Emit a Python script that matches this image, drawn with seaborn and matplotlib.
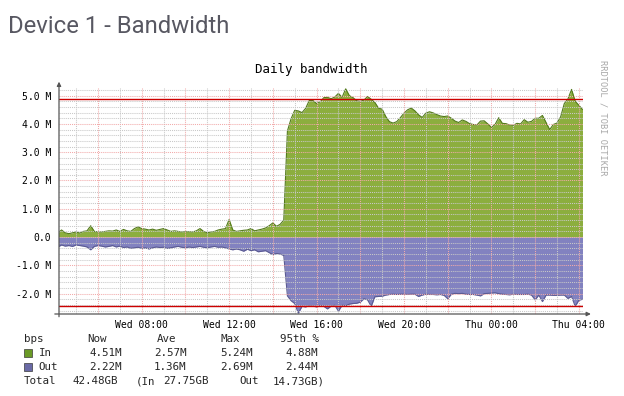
import numpy as np
import pandas as pd
import matplotlib
matplotlib.use("Agg")
import matplotlib.pyplot as plt
import seaborn as sns
from matplotlib.patches import Rectangle
from matplotlib.ticker import FixedLocator, MultipleLocator, FuncFormatter, NullFormatter

# ---------------- data ----------------
start_min = 250          # minutes after Wed 00:00 (Wed 04:10)
step_min = 10            # sample spacing, minutes

in_mbps = [
    0.15, 0.25, 0.15, 0.12, 0.15, 0.18, 0.14, 0.20, 0.22, 0.40,
    0.20, 0.18, 0.18, 0.20, 0.22, 0.21, 0.25, 0.20, 0.27, 0.22,
    0.20, 0.30, 0.36, 0.30, 0.28, 0.25, 0.28, 0.24, 0.27, 0.30,
    0.25, 0.20, 0.22, 0.20, 0.18, 0.20, 0.19, 0.18, 0.22, 0.30,
    0.20, 0.15, 0.18, 0.20, 0.25, 0.28, 0.30, 0.62, 0.25, 0.20,
    0.22, 0.24, 0.25, 0.30, 0.22, 0.25, 0.28, 0.32, 0.40, 0.50,
    0.38, 0.45, 0.60,
    3.75, 4.18, 4.48, 4.46, 4.40, 4.55, 4.83, 4.83, 4.72, 4.78,
    4.93, 4.94, 4.89, 4.95, 5.08, 4.94, 5.24, 5.00, 4.93, 4.82,
    4.80, 4.84, 4.97, 4.87, 4.76, 4.56, 4.52, 4.26, 4.08, 4.03,
    4.08, 4.22, 4.38, 4.50, 4.56, 4.46, 4.32, 4.23, 4.38, 4.43,
    4.39, 4.33, 4.28, 4.26, 4.28, 4.20, 4.10, 4.05, 4.14, 4.09,
    4.01, 3.98, 3.96, 4.10, 4.11, 4.00, 3.88, 3.98, 4.22, 4.02,
    4.01, 3.96, 3.95, 4.02, 4.00, 4.15, 4.06, 4.09, 4.20, 4.20,
    4.30, 4.05, 3.80, 3.98, 4.03, 4.25, 4.72, 4.88, 5.22, 4.80,
    4.66, 4.51,
]

out_mbps = [
    -0.35, -0.28, -0.32, -0.30, -0.33, -0.28, -0.30, -0.32, -0.35, -0.45,
    -0.33, -0.30, -0.32, -0.35, -0.33, -0.30, -0.35, -0.32, -0.37, -0.35,
    -0.40, -0.38, -0.36, -0.40, -0.38, -0.42, -0.38, -0.35, -0.37, -0.36,
    -0.40, -0.38, -0.35, -0.33, -0.36, -0.38, -0.35, -0.37, -0.35, -0.33,
    -0.36, -0.38, -0.35, -0.33, -0.36, -0.35, -0.38, -0.42, -0.45, -0.42,
    -0.45, -0.50, -0.43, -0.48, -0.45, -0.52, -0.50, -0.48, -0.55, -0.62,
    -0.58, -0.60, -0.65,
    -2.08, -2.25, -2.35, -2.69, -2.45, -2.47, -2.42, -2.44, -2.47, -2.43,
    -2.45, -2.54, -2.44, -2.41, -2.62, -2.41, -2.43, -2.37, -2.35, -2.34,
    -2.30, -2.18, -2.22, -2.45, -2.11, -2.10, -2.09, -2.05, -2.03, -2.02,
    -2.03, -2.02, -2.02, -2.03, -2.02, -2.02, -2.10, -2.05, -2.02, -2.03,
    -2.03, -2.04, -2.03, -2.06, -2.18, -2.02, -1.99, -2.00, -1.99, -2.02,
    -2.03, -2.03, -2.05, -2.08, -2.00, -1.99, -1.98, -1.97, -2.00, -2.02,
    -2.03, -2.04, -2.02, -2.03, -2.03, -2.03, -2.02, -2.05, -2.22, -2.05,
    -2.28, -2.05, -2.05, -2.06, -2.06, -2.05, -2.05, -2.17, -2.10, -2.45,
    -2.23, -2.20,
]

in_p95 = 4.88
out_p95 = 2.44

ytick_values = [-2, -1, 0, 1, 2, 3, 4, 5]
ytick_labels = ["-2.0 M", "-1.0 M", "0.0", "1.0 M", "2.0 M", "3.0 M", "4.0 M", "5.0 M"]
xtick_minutes = [480, 720, 960, 1200, 1440, 1680]
xtick_labels = ["Wed 08:00", "Wed 12:00", "Wed 16:00", "Wed 20:00", "Thu 00:00", "Thu 04:00"]

legend_header = ["bps", "Now", "Ave", "Max", "95th %"]
in_stats = ["4.51M", "2.57M", "5.24M", "4.88M"]
out_stats = ["2.22M", "1.36M", "2.69M", "2.44M"]
total_row = ["Total", "42.48GB", "(In", "27.75GB", "Out", "14.73GB)"]

page_title = "Device 1 - Bandwidth"
chart_title = "Daily bandwidth"
side_note = "RRDTOOL / TOBI OETIKER"

# ---------------- build ----------------
n = len(in_mbps)
df = pd.DataFrame({
    "minute": start_min + step_min * np.arange(n),
    "In": in_mbps,
    "Out": out_mbps,
})

sns.set_theme(style="white")
plt.rcParams["font.family"] = ["DejaVu Sans Mono", "DejaVu Sans"]

W, H = 624, 396
fig = plt.figure(figsize=(W / 100, H / 100), dpi=100)
fig.patch.set_facecolor("white")

def fx(px):
    return px / W

def fy(py):
    return 1 - py / H

ax_l, ax_r, ax_t, ax_b = 59, 582.5, 88, 314
ax = fig.add_axes([fx(ax_l), fy(ax_b), (ax_r - ax_l) / W, (ax_b - ax_t) / H])
ax.set_facecolor("white")

in_fill = "#8cae3e"
in_edge = "#52791a"
out_fill = "#8282c0"
out_edge = "#5a5a92"

ax.fill_between(df["minute"], 0, df["In"], color=in_fill, lw=0, zorder=1)
ax.fill_between(df["minute"], 0, df["Out"], color=out_fill, lw=0, zorder=1)
sns.lineplot(data=df, x="minute", y="In", ax=ax, color=in_edge, linewidth=0.8, zorder=2)
sns.lineplot(data=df, x="minute", y="Out", ax=ax, color=out_edge, linewidth=0.8, zorder=2)

ax.axhline(in_p95, color="#cc0000", lw=1.0, zorder=4)
ax.axhline(-out_p95, color="#cc0000", lw=1.0, zorder=4)

ax.set_xlim(253, 1690)
ax.set_ylim(-2.72, 5.27)

# grid / ticks
ax.set_axisbelow(False)
ax.yaxis.set_major_locator(FixedLocator(ytick_values))
ax.set_yticklabels(ytick_labels)
ax.yaxis.set_minor_locator(MultipleLocator(0.2))
ax.xaxis.set_major_locator(MultipleLocator(120))
ax.xaxis.set_minor_locator(MultipleLocator(60))
xlab_map = dict(zip(xtick_minutes, xtick_labels))
ax.xaxis.set_major_formatter(FuncFormatter(lambda v, p: xlab_map.get(int(round(v)), "")))
ax.xaxis.set_minor_formatter(NullFormatter())

dots = (0, (1, 1))
ax.grid(which="minor", color="#c8c8c8", linestyle=dots, linewidth=0.75)
ax.grid(which="major", color="#f2aaaa", linestyle=dots, linewidth=0.75)

ax.tick_params(axis="both", which="major", length=3, width=0.8, color="#505050",
               labelsize=7, labelcolor="black", direction="out")
ax.tick_params(axis="y", which="major", pad=2.5)
ax.tick_params(axis="x", which="major", pad=1.5)
ax.tick_params(axis="y", which="minor", length=1.5, width=0.6, color="#505050", direction="out")
ax.tick_params(axis="x", which="minor", length=0)
ax.set_xlabel("")
ax.set_ylabel("")
for s in ax.spines.values():
    s.set_visible(False)

# axis lines with arrowheads
arrow_kw = dict(arrowstyle="-|>", color="#555555", lw=0.9, mutation_scale=6,
                shrinkA=0, shrinkB=0)
ax.annotate("", xy=(1.016, 0), xytext=(-0.008, 0), xycoords="axes fraction",
            arrowprops=arrow_kw, annotation_clip=False, zorder=5)
ax.annotate("", xy=(0, 1.028), xytext=(0, -0.012), xycoords="axes fraction",
            arrowprops=arrow_kw, annotation_clip=False, zorder=5)

# titles
fig.text(fx(8), fy(33), page_title, fontsize=17.2, color="#585862",
         family=["Roboto", "DejaVu Sans"], fontweight="normal", va="baseline", ha="left")
fig.text(fx(311), fy(72.5), chart_title, fontsize=9, color="black",
         va="baseline", ha="center")
fig.text(fx(603), fy(60), side_note, fontsize=6.2, color="#a8a8a8",
         rotation=270, va="top", ha="center")

# legend block
fs = 7.8
hdr_x = [24, 87, 157, 220, 280]
for x, t in zip(hdr_x, legend_header):
    fig.text(fx(x), fy(342.5), t, fontsize=fs, va="baseline", ha="left")

val_x = [89, 154, 220.5, 285]
rows = [("In", in_stats, "#6a9a26", 356.5, 349.3), ("Out", out_stats, "#6a6aa6", 370.5, 363.3)]
for name, stats, col, base, sq_top in rows:
    fig.patches.append(Rectangle((fx(23.5), fy(sq_top + 8)), 8 / W, 8 / H,
                                 transform=fig.transFigure, facecolor=col,
                                 edgecolor="#3a3a3a", lw=0.5))
    fig.text(fx(38.5), fy(base), name, fontsize=fs, va="baseline", ha="left")
    for x, t in zip(val_x, stats):
        fig.text(fx(x), fy(base), t, fontsize=fs, va="baseline", ha="left")

tot_x = [23.5, 72.5, 136, 163, 239, 273]
for x, t in zip(tot_x, total_row):
    fig.text(fx(x), fy(384.5), t, fontsize=fs, va="baseline", ha="left")

fig.savefig("out.png", dpi=100, facecolor="white")
